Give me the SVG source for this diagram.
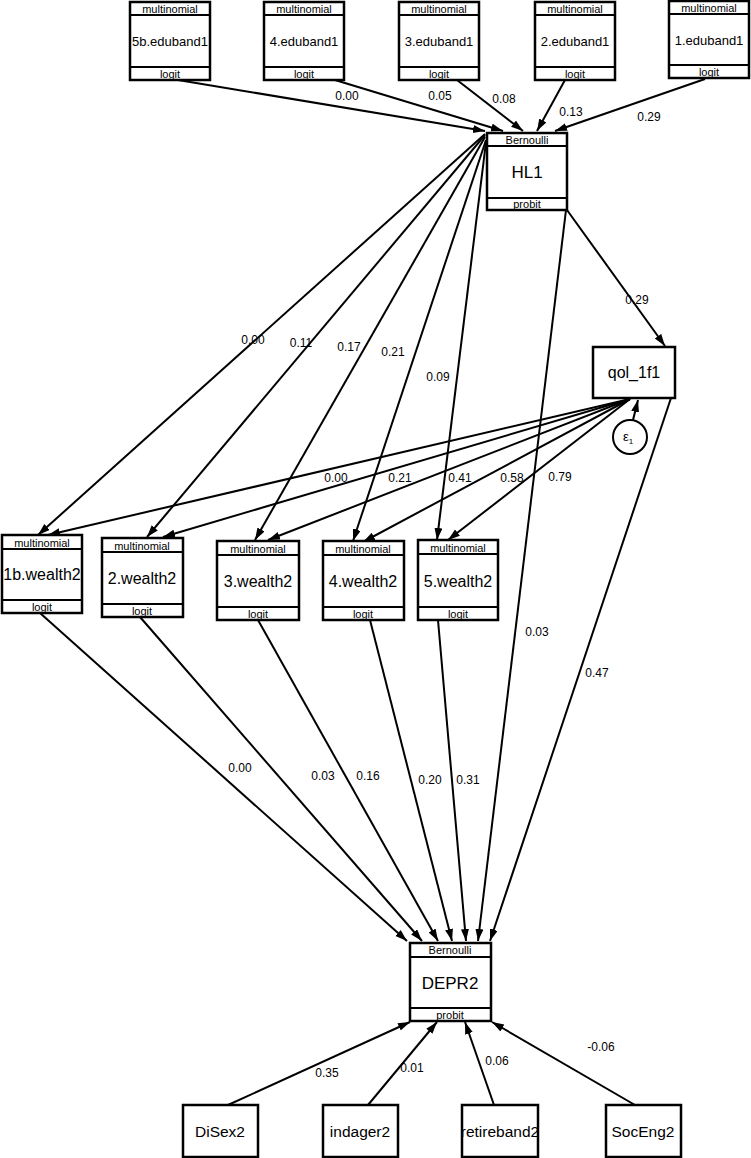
<svg xmlns="http://www.w3.org/2000/svg" width="751" height="1158" viewBox="0 0 751 1158">
<style>
text{font-family:"Liberation Sans",Arial,sans-serif;fill:#000;text-anchor:middle}
.box{fill:#fff;stroke:#000;stroke-width:2.5}
.div{stroke:#000;stroke-width:2}
.sm{font-size:11px}
.edu{font-size:13px}
.big{font-size:17px}
.mid{font-size:16px}
.bot{font-size:15.5px}
.lab{font-size:12px}
.edge{stroke:#000;stroke-width:2;fill:none;marker-end:url(#ah)}
</style>
<defs>
<marker id="ah" markerUnits="userSpaceOnUse" markerWidth="14" markerHeight="10" refX="12" refY="4" orient="auto">
<path d="M0,0 L12,4 L0,8 Z" fill="#000"/>
</marker>
</defs>
<rect width="751" height="1158" fill="#fff"/>
<g id="connectors">
<line class="edge" x1="178" y1="80" x2="485" y2="131"/>
<line class="edge" x1="335" y1="80" x2="503" y2="131"/>
<line class="edge" x1="457" y1="80" x2="523" y2="131"/>
<line class="edge" x1="565" y1="80" x2="537" y2="131"/>
<line class="edge" x1="705" y1="79" x2="555" y2="131"/>
<line class="edge" x1="485" y1="134" x2="38" y2="535"/>
<line class="edge" x1="485" y1="135" x2="147" y2="537"/>
<line class="edge" x1="485" y1="137" x2="255" y2="540"/>
<line class="edge" x1="486" y1="140" x2="353" y2="541"/>
<line class="edge" x1="486" y1="142" x2="437" y2="540"/>
<line class="edge" x1="567" y1="210" x2="665" y2="346"/>
<line class="edge" x1="566" y1="210" x2="478" y2="941"/>
<line class="edge" x1="630" y1="399" x2="48" y2="535"/>
<line class="edge" x1="630" y1="399" x2="163" y2="537"/>
<line class="edge" x1="630" y1="399" x2="268" y2="540"/>
<line class="edge" x1="630" y1="399" x2="363" y2="542"/>
<line class="edge" x1="630" y1="399" x2="448" y2="540"/>
<line class="edge" x1="633" y1="420" x2="638" y2="400"/>
<line class="edge" x1="671" y1="398" x2="490" y2="941"/>
<line class="edge" x1="40" y1="613" x2="407" y2="941"/>
<line class="edge" x1="140" y1="617" x2="422" y2="941"/>
<line class="edge" x1="258" y1="620" x2="438" y2="941"/>
<line class="edge" x1="370" y1="620" x2="452" y2="941"/>
<line class="edge" x1="438" y1="620" x2="466" y2="941"/>
<line class="edge" x1="228" y1="1105" x2="410" y2="1022"/>
<line class="edge" x1="368" y1="1105" x2="437" y2="1022"/>
<line class="edge" x1="494" y1="1105" x2="465" y2="1022"/>
<line class="edge" x1="635" y1="1105" x2="492" y2="1022"/>
<g class="lab">
<text x="347" y="100">0.00</text>
<text x="440" y="100">0.05</text>
<text x="504" y="103">0.08</text>
<text x="571" y="116">0.13</text>
<text x="649" y="121">0.29</text>
<text x="253" y="344">0.00</text>
<text x="301" y="347">0.11</text>
<text x="349" y="351">0.17</text>
<text x="393" y="356">0.21</text>
<text x="438" y="381">0.09</text>
<text x="637" y="304">0.29</text>
<text x="336" y="482">0.00</text>
<text x="400" y="482">0.21</text>
<text x="460" y="482">0.41</text>
<text x="512" y="482">0.58</text>
<text x="560" y="481">0.79</text>
<text x="537" y="636">0.03</text>
<text x="597" y="677">0.47</text>
<text x="240" y="772">0.00</text>
<text x="323" y="780">0.03</text>
<text x="368" y="780">0.16</text>
<text x="430" y="784">0.20</text>
<text x="468" y="784">0.31</text>
<text x="327" y="1077">0.35</text>
<text x="412" y="1072">0.01</text>
<text x="497" y="1065">0.06</text>
<text x="601" y="1051">-0.06</text>
</g>
</g>
<g id="n_edu5b"><rect class="box" x="130" y="2" width="80" height="78"/><line class="div" x1="130" y1="15" x2="210" y2="15"/><line class="div" x1="130" y1="67" x2="210" y2="67"/><text class="sm" x="170" y="13">multinomial</text><text class="edu" x="170" y="46">5b.eduband1</text><text class="sm" x="170" y="78">logit</text></g>
<g id="n_edu4"><rect class="box" x="264" y="2" width="80" height="78"/><line class="div" x1="264" y1="15" x2="344" y2="15"/><line class="div" x1="264" y1="67" x2="344" y2="67"/><text class="sm" x="304" y="13">multinomial</text><text class="edu" x="304" y="46">4.eduband1</text><text class="sm" x="304" y="78">logit</text></g>
<g id="n_edu3"><rect class="box" x="399" y="2" width="80" height="78"/><line class="div" x1="399" y1="15" x2="479" y2="15"/><line class="div" x1="399" y1="67" x2="479" y2="67"/><text class="sm" x="439" y="13">multinomial</text><text class="edu" x="439" y="46">3.eduband1</text><text class="sm" x="439" y="78">logit</text></g>
<g id="n_edu2"><rect class="box" x="535" y="2" width="80" height="78"/><line class="div" x1="535" y1="15" x2="615" y2="15"/><line class="div" x1="535" y1="67" x2="615" y2="67"/><text class="sm" x="575" y="13">multinomial</text><text class="edu" x="575" y="46">2.eduband1</text><text class="sm" x="575" y="78">logit</text></g>
<g id="n_edu1"><rect class="box" x="669" y="1" width="80" height="77"/><line class="div" x1="669" y1="14" x2="749" y2="14"/><line class="div" x1="669" y1="65" x2="749" y2="65"/><text class="sm" x="709" y="12">multinomial</text><text class="edu" x="709" y="45">1.eduband1</text><text class="sm" x="709" y="76">logit</text></g>
<g id="n_HL1"><rect class="box" x="487" y="133" width="80" height="77"/><line class="div" x1="487" y1="146" x2="567" y2="146"/><line class="div" x1="487" y1="198" x2="567" y2="198"/><text class="sm" x="527" y="144">Bernoulli</text><text class="big" x="527" y="178">HL1</text><text class="sm" x="527" y="208">probit</text></g>
<g id="n_qol"><rect class="box" x="593" y="347" width="82" height="51"/><text class="mid" x="634" y="378">qol_1f1</text></g>
<g id="n_e1"><circle cx="630" cy="437" r="17" fill="#fff" stroke="#000" stroke-width="2"/><text font-size="13" x="628" y="441">ε<tspan font-size="8" dy="3">1</tspan></text></g>
<g id="n_w1"><rect class="box" x="2" y="535" width="80" height="78"/><line class="div" x1="2" y1="549" x2="82" y2="549"/><line class="div" x1="2" y1="600" x2="82" y2="600"/><text class="sm" x="42" y="547">multinomial</text><text class="mid" x="42" y="580">1b.wealth2</text><text class="sm" x="42" y="611">logit</text></g>
<g id="n_w2"><rect class="box" x="102" y="538" width="81" height="79"/><line class="div" x1="102" y1="552" x2="183" y2="552"/><line class="div" x1="102" y1="604" x2="183" y2="604"/><text class="sm" x="142" y="550">multinomial</text><text class="mid" x="142" y="584">2.wealth2</text><text class="sm" x="142" y="615">logit</text></g>
<g id="n_w3"><rect class="box" x="217" y="541" width="82" height="79"/><line class="div" x1="217" y1="555" x2="299" y2="555"/><line class="div" x1="217" y1="607" x2="299" y2="607"/><text class="sm" x="258" y="553">multinomial</text><text class="mid" x="258" y="587">3.wealth2</text><text class="sm" x="258" y="618">logit</text></g>
<g id="n_w4"><rect class="box" x="323" y="541" width="81" height="79"/><line class="div" x1="323" y1="555" x2="404" y2="555"/><line class="div" x1="323" y1="607" x2="404" y2="607"/><text class="sm" x="363" y="553">multinomial</text><text class="mid" x="363" y="587">4.wealth2</text><text class="sm" x="363" y="618">logit</text></g>
<g id="n_w5"><rect class="box" x="418" y="540" width="80" height="80"/><line class="div" x1="418" y1="554" x2="498" y2="554"/><line class="div" x1="418" y1="607" x2="498" y2="607"/><text class="sm" x="458" y="552">multinomial</text><text class="mid" x="458" y="587">5.wealth2</text><text class="sm" x="458" y="618">logit</text></g>
<g id="n_DEPR2"><rect class="box" x="410" y="943" width="81" height="78"/><line class="div" x1="410" y1="957" x2="491" y2="957"/><line class="div" x1="410" y1="1008" x2="491" y2="1008"/><text class="sm" x="450" y="954">Bernoulli</text><text class="big" x="450" y="989">DEPR2</text><text class="sm" x="450" y="1019">probit</text></g>
<g id="n_DiSex2"><rect class="box" x="183" y="1105" width="75" height="52"/><text class="bot" x="220" y="1137">DiSex2</text></g>
<g id="n_indager2"><rect class="box" x="323" y="1105" width="75" height="52"/><text class="bot" x="360" y="1137">indager2</text></g>
<g id="n_retireband2"><rect class="box" x="462" y="1105" width="76" height="52"/><text class="bot" x="500" y="1137">retireband2</text></g>
<g id="n_SocEng2"><rect class="box" x="606" y="1105" width="75" height="52"/><text class="bot" x="643" y="1137">SocEng2</text></g>
</svg>
